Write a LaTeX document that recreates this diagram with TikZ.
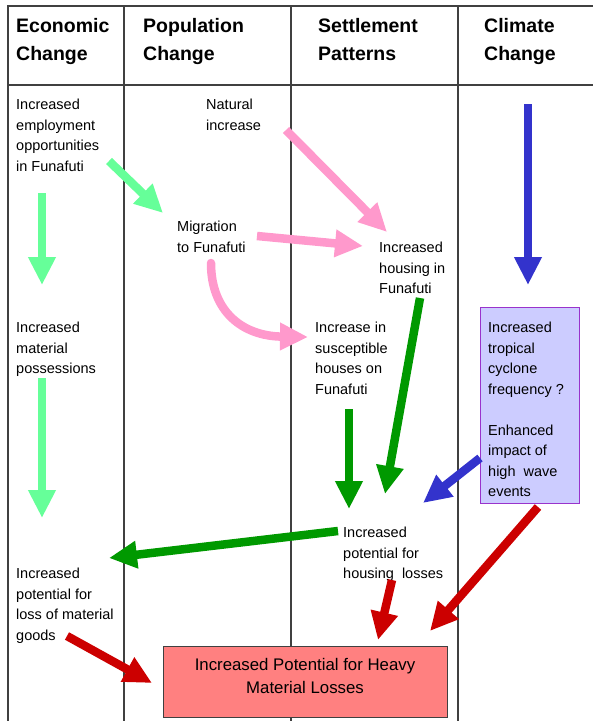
\documentclass[tikz,border=0pt]{standalone}
\usepackage{fontspec}
\setmainfont{Liberation Sans}
\usetikzlibrary{arrows.meta}
\definecolor{econgreen}{HTML}{66FF99}
\definecolor{poppink}{HTML}{FF99CC}
\definecolor{housegreen}{HTML}{009900}
\definecolor{climblue}{HTML}{3333CC}
\definecolor{lossred}{HTML}{CC0000}
\definecolor{cyclonefill}{HTML}{CCCCFF}
\definecolor{cycloneedge}{HTML}{9933CC}
\definecolor{heavyfill}{HTML}{FF8080}
\definecolor{gridgray}{HTML}{404040}
\tikzset{
  gridline/.style={line width=1.1pt,gridgray},
  header/.style={anchor=north west,inner sep=0pt,align=left,font=\fontsize{19.5}{28}\selectfont\bfseries},
  body/.style={anchor=north west,inner sep=0pt,align=left,font=\fontsize{14.5}{20.5}\selectfont},
  bigtext/.style={inner sep=0pt,align=center,font=\fontsize{16.8}{23}\selectfont},
  cyclonebox/.style={anchor=north west,draw=cycloneedge,fill=cyclonefill,line width=1.1pt,minimum width=99pt,minimum height=196pt,inner sep=0pt},
  heavybox/.style={anchor=north west,draw=gridgray,fill=heavyfill,line width=1.1pt,minimum width=284pt,minimum height=71pt,inner sep=0pt},
  flow/.style={line width=8.5pt,-{Triangle[width=26pt,length=28pt]}},
  econflow/.style={flow,econgreen},
  popflow/.style={flow,poppink},
  houseflow/.style={flow,housegreen},
  climflow/.style={flow,climblue},
  lossflow/.style={flow,lossred}
}
\begin{document}
\begin{tikzpicture}[x=1pt,y=-1pt]
  \useasboundingbox (0,0) rectangle (593,721);
  \draw[gridline] (8,721)--(8,6)--(593,6);
  \draw[gridline,line width=1.6pt] (8,85)--(593,85);
  \draw[gridline] (124,6)--(124,721) (291,6)--(291,721) (458,6)--(458,721);
  \node[header] (hEcon) at (16,18) {Economic\\Change};
  \node[header] (hPop) at (143,18) {Population\\Change};
  \node[header] (hSett) at (318,18) {Settlement\\Patterns};
  \node[header] (hClim) at (484,18) {Climate\\Change};
  \node[body] (employ) at (16,99) {Increased\\employment\\opportunities\\in Funafuti};
  \node[body] (natural) at (206,99) {Natural\\increase};
  \node[body] (migration) at (177,221) {Migration\\to Funafuti};
  \node[body] (housing) at (379,242) {Increased\\housing in\\Funafuti};
  \node[body] (material) at (16,322) {Increased\\material\\possessions};
  \node[body] (suscept) at (315,322) {Increase in\\susceptible\\houses on\\Funafuti};
  \node[cyclonebox] (cyclone) at (480,307) {};
  \node[body] (cyctext) at (488,322) {Increased\\tropical\\cyclone\\frequency ?\\[20.5pt]Enhanced\\impact of\\high\ \ wave\\events};
  \node[body] (losses) at (343,527) {Increased\\potential for\\housing\ \ losses};
  \node[body] (goods) at (16,568) {Increased\\potential for\\loss of material\\goods};
  \node[heavybox] (heavy) at (163,646) {};
  \node[bigtext] (heavytext) at (305,676) {Increased Potential for Heavy\\Material Losses};
  \coordinate (A1) at (109,161);
  \coordinate (A2) at (163,213);
  \coordinate (B1) at (42,193);
  \coordinate (B2) at (42,285);
  \coordinate (C1) at (42,378);
  \coordinate (C2) at (42,518);
  \coordinate (D1) at (286,130);
  \coordinate (D2) at (387,232);
  \coordinate (E1) at (257,236);
  \coordinate (E2) at (363,246);
  \coordinate (F1) at (211,263);
  \coordinate (F2) at (308,337);
  \coordinate (G1) at (420,298);
  \coordinate (G2) at (385,494);
  \coordinate (H1) at (349,409);
  \coordinate (H2) at (349,509);
  \coordinate (I1) at (338,531);
  \coordinate (I2) at (109,558);
  \coordinate (J1) at (528,104);
  \coordinate (J2) at (528,285);
  \coordinate (K1) at (480,458);
  \coordinate (K2) at (423,503);
  \coordinate (L1) at (67,636);
  \coordinate (L2) at (152,683);
  \coordinate (M1) at (392,580);
  \coordinate (M2) at (378,640);
  \coordinate (N1) at (538,507);
  \coordinate (N2) at (430,631);
  \draw[econflow] (A1) -- (A2);
  \draw[econflow] (B1) -- (B2);
  \draw[econflow] (C1) -- (C2);
  \draw[popflow] (D1) -- (D2);
  \draw[popflow] (E1) -- (E2);
  \draw[popflow,line cap=round] (F1) .. controls (211,312) and (243,336) .. (F2);
  \draw[houseflow] (G1) -- (G2);
  \draw[houseflow] (H1) -- (H2);
  \draw[houseflow] (I1) -- (I2);
  \draw[climflow] (J1) -- (J2);
  \draw[climflow] (K1) -- (K2);
  \draw[lossflow] (L1) -- (L2);
  \draw[lossflow] (M1) -- (M2);
  \draw[lossflow] (N1) -- (N2);
\end{tikzpicture}
\end{document}
